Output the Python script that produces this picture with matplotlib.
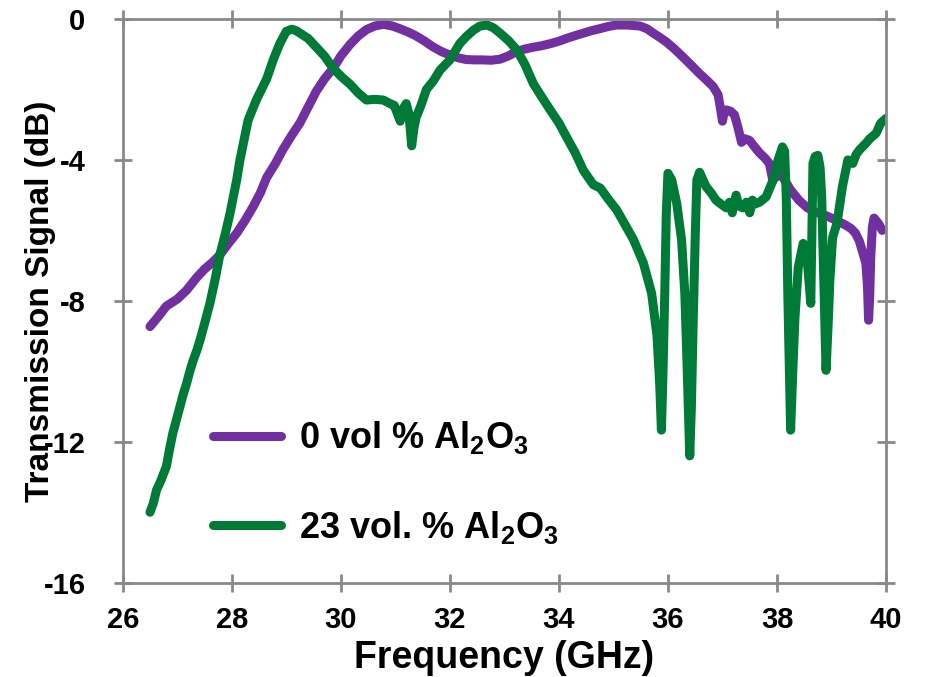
import numpy as np
import matplotlib
matplotlib.use("Agg")
import matplotlib.pyplot as plt

plt.rcParams['font.family'] = ['Liberation Sans', 'DejaVu Sans']
plt.rcParams['font.weight'] = 'bold'
plt.rcParams['mathtext.fontset'] = 'custom'
plt.rcParams['mathtext.rm'] = 'Liberation Sans:bold'
plt.rcParams['mathtext.bf'] = 'Liberation Sans:bold'
plt.rcParams['mathtext.default'] = 'bf'

# 0 vol % Al2O3
f0 = [26.50, 26.65, 26.80, 27.00, 27.17, 27.35, 27.50, 27.65, 27.78, 27.95,
      28.09, 28.25, 28.39, 28.52, 28.64, 28.80, 28.94, 29.10, 29.25, 29.40,
      29.55, 29.70, 29.86, 30.00, 30.17, 30.32, 30.47, 30.62, 30.78, 30.95,
      31.09, 31.25, 31.38, 31.53, 31.68, 31.84, 32.00, 32.15, 32.30, 32.45,
      32.60, 32.76, 32.92, 33.07, 33.23, 33.38, 33.53, 33.68, 33.84, 34.00,
      34.14, 34.30, 34.45, 34.60, 34.76, 34.91, 35.06, 35.25, 35.49, 35.62,
      35.73, 35.85, 35.97, 36.12, 36.27, 36.42, 36.58, 36.70, 36.83, 36.92,
      36.97, 37.00, 37.03, 37.07, 37.15, 37.22, 37.28, 37.35, 37.42, 37.50,
      37.60, 37.68, 37.78, 37.86, 37.92, 37.97, 38.06, 38.15, 38.25, 38.40,
      38.55, 38.71, 38.85, 39.00, 39.13, 39.26, 39.36, 39.44, 39.51, 39.56,
      39.63, 39.66, 39.68, 39.70, 39.72, 39.75, 39.78, 39.84, 39.88, 39.93]
s0 = [-8.73, -8.45, -8.15, -7.95, -7.70, -7.35, -7.10, -6.90, -6.70, -6.35,
      -6.08, -5.70, -5.33, -4.95, -4.50, -4.10, -3.70, -3.30, -2.95, -2.50,
      -2.05, -1.70, -1.40, -1.05, -0.72, -0.48, -0.30, -0.20, -0.15, -0.20,
      -0.28, -0.38, -0.48, -0.62, -0.78, -0.92, -1.02, -1.10, -1.15, -1.16,
      -1.16, -1.17, -1.14, -1.05, -0.92, -0.85, -0.80, -0.76, -0.70, -0.63,
      -0.55, -0.47, -0.40, -0.33, -0.27, -0.21, -0.17, -0.17, -0.20, -0.28,
      -0.40, -0.52, -0.65, -0.85, -1.07, -1.30, -1.55, -1.72, -1.92, -2.15,
      -2.60, -2.90, -2.65, -2.58, -2.62, -2.72, -3.05, -3.50, -3.40, -3.45,
      -3.65, -3.80, -3.95, -4.10, -4.55, -4.50, -4.38, -4.60, -4.85, -5.14,
      -5.35, -5.48, -5.55, -5.65, -5.75, -5.85, -5.95, -6.08, -6.30, -6.56,
      -6.93, -7.60, -8.55, -7.90, -6.75, -5.90, -5.65, -5.76, -5.85, -6.00]

# 23 vol. % Al2O3
f23 = [26.50, 26.56, 26.62, 26.70, 26.80, 26.86, 26.92, 26.98, 27.05, 27.11,
       27.17, 27.23, 27.29, 27.36, 27.42, 27.50, 27.60, 27.70, 27.78, 27.88,
       27.97, 28.09, 28.15, 28.30, 28.45, 28.64, 28.76, 28.88, 29.00, 29.10,
       29.18, 29.25, 29.40, 29.55, 29.70, 29.86, 30.02, 30.17, 30.32, 30.47,
       30.62, 30.78, 30.90, 30.98, 31.04, 31.09, 31.14, 31.20, 31.25, 31.30,
       31.34, 31.38, 31.47, 31.57, 31.70, 31.82, 32.00, 32.18, 32.30, 32.43,
       32.55, 32.68, 32.80, 32.92, 33.08, 33.23, 33.38, 33.53, 33.68, 33.84,
       34.00, 34.14, 34.30, 34.45, 34.63, 34.76, 34.90, 35.06, 35.20, 35.37,
       35.55, 35.70, 35.80, 35.85, 35.88, 35.91, 35.94, 35.97, 36.00, 36.07,
       36.16, 36.25, 36.31, 36.35, 36.40, 36.43, 36.46, 36.50, 36.53, 36.58,
       36.70, 36.80, 36.88, 36.97, 37.07, 37.13, 37.18, 37.25, 37.30, 37.37,
       37.44, 37.50, 37.55, 37.60, 37.68, 37.80, 37.93, 38.02, 38.10, 38.14,
       38.17, 38.20, 38.25, 38.29, 38.33, 38.39, 38.48, 38.54, 38.57, 38.62,
       38.66, 38.70, 38.75, 38.79, 38.82, 38.86, 38.90, 38.94, 38.97, 39.02,
       39.10, 39.20, 39.30, 39.39, 39.45, 39.51, 39.63, 39.70, 39.82, 39.90,
       40.00]
s23 = [-14.00, -13.75, -13.37, -13.10, -12.70, -12.20, -11.75, -11.40, -11.00, -10.65,
       -10.35, -10.00, -9.70, -9.40, -9.10, -8.65, -8.06, -7.35, -6.70, -6.10,
       -5.50, -4.57, -4.00, -2.87, -2.30, -1.70, -1.16, -0.70, -0.35, -0.29,
       -0.33, -0.40, -0.55, -0.80, -1.05, -1.40, -1.65, -1.85, -2.10, -2.30,
       -2.28, -2.30, -2.40, -2.45, -2.70, -2.90, -2.55, -2.40, -2.70, -3.60,
       -3.10, -2.80, -2.45, -2.00, -1.75, -1.45, -1.16, -0.70, -0.50, -0.32,
       -0.20, -0.17, -0.25, -0.40, -0.62, -0.88, -1.30, -1.83, -2.20, -2.58,
       -2.95, -3.35, -3.80, -4.30, -4.70, -4.80, -5.10, -5.42, -5.80, -6.27,
       -6.93, -7.78, -9.00, -10.40, -11.67, -10.00, -7.90, -5.50, -4.38, -4.57,
       -5.22, -6.27, -7.80, -9.77, -12.40, -11.00, -8.80, -6.20, -4.57, -4.35,
       -4.76, -4.95, -5.14, -5.25, -5.36, -5.20, -5.50, -5.00, -5.30, -5.36,
       -5.20, -5.50, -5.14, -5.25, -5.20, -5.05, -4.57, -4.00, -3.63, -3.75,
       -5.05, -7.90, -11.67, -10.00, -8.47, -7.05, -6.37, -6.60, -7.13, -8.07,
       -4.10, -3.90, -3.87, -4.20, -5.05, -7.50, -9.97, -8.60, -7.40, -6.20,
       -5.80, -4.76, -4.00, -4.10, -3.85, -3.72, -3.53, -3.40, -3.24, -2.96,
       -2.82]

labels = ["0 vol % Al$_2$O$_3$", "23 vol. % Al$_2$O$_3$"]
colors = ["#7030A0", "#007A37"]

fig = plt.figure(figsize=(9.27, 6.77), dpi=100)
ax = fig.add_axes([0.1324, 0.1393, 0.8234, 0.8326])

for f, s, lab, c in zip([f0, f23], [s0, s23], labels, colors):
    ax.plot(f, s, color=c, lw=6.5, label=lab,
            solid_capstyle='round', solid_joinstyle='round')

ax.set_xlim(26, 40)
ax.set_ylim(-16, 0)
ax.set_xticks(np.arange(26, 41, 2))
ax.set_yticks([-16, -12, -8, -4, 0])
ax.set_yticklabels(['-16', '-12', '-8', '-4', '0'])

for sp in ax.spines.values():
    sp.set_color('#898989')
    sp.set_linewidth(2)
ax.tick_params(direction='inout', length=13.5, width=2, color='#898989',
               labelsize=21, top=True, right=True)
ax.tick_params(axis='y', pad=20)
ax.tick_params(axis='x', pad=10)

ax.set_xlabel("Frequency (GHz)", fontsize=27, fontweight='bold', labelpad=4)
ax.set_ylabel("Transmission Signal (dB)", fontsize=24, fontweight='bold')
ax.yaxis.set_label_coords(-0.087, 0.5)

leg = ax.legend(loc='upper left', bbox_to_anchor=(0.094, 0.322), frameon=False,
                fontsize=26, handlelength=1.9, handletextpad=0.5,
                labelspacing=1.45, borderpad=0)

fig.savefig("out.png", dpi=100)
